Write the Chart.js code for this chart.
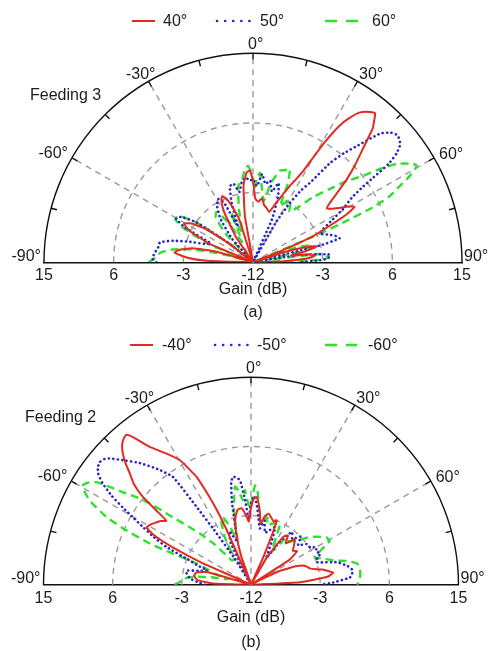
<!DOCTYPE html>
<html lang="en">
<head>
    <meta charset="UTF-8">
    <title>Feeding 3 / Feeding 2 radiation patterns</title>
    <script src="https://cdn.jsdelivr.net/npm/chart.js"></script>
    <style>
        body { margin: 0; background: #fff; overflow: hidden; }
        canvas { display: block; }
    </style>
</head>
<body>
    <canvas id="chartA" width="492" height="326"></canvas>
    <canvas id="chartB" width="492" height="330"></canvas>

    <script>
        // radial axis: gain in dB, centre = -12, rim = 15
        const gainMin = -12;
        const gainMax = 15;
        const gainTicks = [15, 6, -3, -12, -3, 6, 15];
        const ringGains = [-3, 6];
        const spokeAngles = [-60, -30, 0, 30, 60];
        const angleLabels = [-90, -60, -30, 0, 30, 60, 90];

        // (a) Feeding 3, [angle deg, gain dB]
        const feed3_40 = [[-90,-12],[-88,-6],[-86,-3.5],[-83,-1.8],[-80,-2.5],[-77,-4],[-74,-7],[-71,-12],[-67,-6],[-64,-3],[-61,-1.8],[-58,-2.6],[-55,-4.5],[-52,-8],[-48,-12],[-40,-12],[-34,-8],[-30,-4.5],[-27,-3],[-25,-2.6],[-22,-3.5],[-18,-6],[-14,-12],[-10,-6],[-7,-2],[-4,-0.4],[-2,-0.2],[0,-1.5],[2,-3.8],[5,-4.2],[8,-3.7],[11,-4.5],[14,-4.8],[18,-5.2],[21,-4],[24,-2.4],[26,-1],[27.5,0],[29,1.5],[30,3.5],[31,6],[32.5,8.8],[34,10.4],[35.7,11.7],[38,12.5],[39.5,12.8],[41,11.8],[42,11.1],[44.2,8.4],[46.5,6.2],[48.6,4.2],[50.5,2.2],[52.5,0.5],[54,-0.2],[56,0.3],[58,1.2],[60,2.3],[61.5,2.9],[63,1.6],[65,-1.5],[66.6,-3.6],[68,-8],[69,-12],[72,-8],[74,-5],[76,-3.5],[78,-5],[80,-7],[82,-4.5],[84,-4],[86,-5],[88,-8],[90,-12]];
        const feed3_50 = [[-90,0.5],[-88,1],[-85,0.8],[-81,0.4],[-78,0.3],[-75,-1.3],[-72,-3.5],[-69,-5.5],[-66,-6],[-63,-2],[-60.5,-0.6],[-58,-1],[-55,-3],[-52,-8],[-48,-12],[-42,-8],[-37,-5],[-33,-3.5],[-29,-2.7],[-26,-3.5],[-23,-7],[-20,-4],[-17,-1.8],[-14,-1.6],[-11,-2.8],[-8,-1.6],[-5,-1.1],[-2,-1.5],[0,-1.3],[3,-2.2],[6,-0.6],[9,-1.8],[12,-1.3],[15,-2.6],[18,-1.3],[21,-3],[24,-6],[27,-12],[30,-6],[32,-3],[34,-0.8],[36,0.8],[38,4.2],[40,6.3],[42,8.1],[44.8,11.3],[47,12.4],[49,12.8],[51.5,12.3],[53,11.2],[54.2,9.6],[55,7],[55.6,5.3],[57,3.2],[59.5,1.5],[62,-0.4],[64.8,-2],[67,-2.6],[70,-1.6],[73,-0.6],[74.6,-0.4],[76,-3],[78,-12],[81,-6],[84,-2.2],[86,-2],[88,-3],[90,-6]];
        const feed3_60 = [[-90,1.5],[-87,0.5],[-84,0],[-81,-1.5],[-78,-4],[-75,-8],[-72,-12],[-68,-6],[-64,-2],[-61,-0.5],[-58,-0.8],[-55,-3],[-52,-8],[-48,-12],[-44,-7],[-40,-4.5],[-36,-4],[-32,-6],[-28,-9],[-24,-5],[-20,-8],[-15,-5],[-11,-2],[-8,-1.5],[-5,0],[-3,0.4],[-1,-0.5],[1,-2.5],[3,-1],[4.5,-0.5],[7,-2.5],[10,-4],[13,-1.5],[16.5,0.3],[19,0.5],[21.7,0.9],[24,-1],[26,-4],[29,-3],[32,-2.8],[36,-4],[40,-2.6],[43,-0.5],[46.5,1.7],[49,3.8],[52,6],[54,8.5],[55.8,10.5],[58.5,12.2],[59.7,12.5],[61.3,11.1],[63,9],[64.3,7.6],[65.5,5],[66.3,1],[67,-3],[68,-12],[71,-6],[74,-4],[77,-6],[80,-10],[83,-3.3],[86,-2.2],[88,-3],[90,-12]];

        // (b) Feeding 2
        const feed2_40 = [[-90,-12],[-88,-7],[-85,-5],[-81,-4.5],[-77.5,-4.7],[-74,-6],[-70,-12],[-66,-5],[-64.6,-0.8],[-63,2.2],[-61.3,3.5],[-59,3.2],[-57,2.8],[-55,2.4],[-53,1.8],[-52,3.6],[-51,6.1],[-49.5,8],[-47.5,9.4],[-46,10.7],[-44.3,11.9],[-42.5,12.8],[-41,13.2],[-39.8,13.3],[-38.5,12.3],[-36.4,10.2],[-33,8.3],[-29.8,6.6],[-26.8,3.6],[-25,-0.3],[-24,-4.3],[-22,-12],[-19,-8],[-16,-5],[-13,-3],[-10,-2.1],[-7,-2],[-4,-3],[-2,-3.8],[0,-2],[2,-0.8],[3.7,-0.6],[5.5,-1.5],[7.2,-2.7],[9,-4],[11.5,-2.9],[14,-2.5],[17.5,-3],[20,-3.3],[22,-3],[24,-8],[27,-12],[30,-8],[34,-4.5],[37,-4],[40,-5],[44,-3.8],[48,-4.5],[51,-5],[54,-4.6],[57,-6],[61,-12],[64,-8],[68,-5.5],[71,-4.5],[74.8,-4],[78,-2.5],[81.7,-1.2],[84,-2],[87,-5.6],[90,-12]];
        const feed2_50 = [[-90,-6],[-87,-5],[-84,-4],[-80,-3.5],[-77.6,-3.4],[-75,-5],[-72,-6],[-70,-4.5],[-68.5,-3.5],[-66,0],[-64,2],[-62,3.9],[-60.5,5.5],[-59,7.5],[-57.5,9.5],[-55.7,11.4],[-54,12.6],[-52.5,13.1],[-51,13.3],[-49.5,13.1],[-48.3,12.6],[-45.5,11],[-42.5,9.4],[-39,7.3],[-36,5.3],[-35,0.3],[-34,-3.4],[-32,-8],[-29,-12],[-26,-6],[-22,-4.5],[-18,-6],[-15,-4],[-13,-1],[-11,1.5],[-9.5,2.2],[-7.5,2],[-6,1.6],[-4,-1],[-2,-3.5],[0,-1.4],[2,-0.5],[4,-1.5],[6,-3],[9,-4.6],[12,-3.5],[15,-5],[19,-4.5],[22.8,-3.9],[26,-6],[30,-8],[34,-5],[38,-3.3],[42,-4],[46,-3],[50,-4],[54,-3],[57.7,-2.9],[60.4,-2.2],[63,-2.5],[65.8,-2.1],[68,-2.7],[71,-3],[75.4,-0.4],[79,0.8],[82,1.4],[84,1.2],[85.8,0.9],[88.4,-1.3],[90,-3]];
        const feed2_60 = [[-90,-2],[-88,-2.7],[-85,-3.1],[-82,-4.5],[-79,-7],[-76,-9],[-73,-7],[-70.5,-6],[-68.7,-4.4],[-68.3,-1],[-67.9,2.2],[-66.5,5.7],[-65,8.7],[-62.5,11.7],[-60.5,13],[-59.4,13.4],[-58,13],[-56.5,12.1],[-55.5,10.5],[-54.3,8.6],[-52.5,6.5],[-51.3,4.9],[-49.3,1.4],[-47,-1],[-45,-2.6],[-42,-5],[-38,-8],[-33,-8],[-29,-5],[-25,-2.8],[-22.7,-2.5],[-20,-4],[-17,-6],[-14,-3],[-11,-0.5],[-9.3,0.9],[-7.5,0.3],[-5.5,-1],[-3.7,0.3],[-2,-1.5],[0,-2],[1,-0.5],[2.3,0.9],[4,0.2],[6,-2],[9,-4],[11,-3.5],[13,-3],[16,-4],[19,-3.6],[22.8,-3.4],[25.4,-3.2],[28,-5],[32,-7],[37,-4.3],[41,-4.5],[46,-3.8],[50,-2.5],[54,-1.4],[58,-0.4],[61,-0.3],[64,-2],[67,-3],[70,-2],[73.7,-0.8],[76,0.8],[78.8,2.1],[82,2.3],[84.2,2.3],[86.5,2.2],[88.8,2],[90,1.8]];

        const labelsA = ['40°', '50°', '60°'];
        const labelsB = ['-40°', '-50°', '-60°'];

        const RED = '#e42a20', BLUE = '#2626c4', GREEN = '#2fe02f', INK = '#1c1c1c';
        Chart.defaults.font.family = '"Liberation Sans", Arial, Helvetica, sans-serif';
        Chart.defaults.font.size = 16;
        Chart.defaults.color = INK;

        // polar (angle from broadside, gain) -> x/y in radius units
        function toXY(pts) {
            return pts.map(([a, g]) => {
                const r = Math.max(g, gainMin) - gainMin;
                const t = a * Math.PI / 180;
                return { x: r * Math.sin(t), y: r * Math.cos(t) };
            });
        }

        const styles = [
            { color: RED, width: 2, dash: [], cap: 'butt', legendDash: [] },
            { color: BLUE, width: 2.6, dash: [0.1, 4.4], cap: 'round', legendDash: [0.1, 8] },
            { color: GREEN, width: 2.4, dash: [8, 5], cap: 'butt', legendDash: [12, 9] }
        ];

        const polarFrame = {
            id: 'polarFrame',
            beforeDatasetsDraw(chart) {
                const { ctx, scales: { x, y } } = chart;
                const cx = x.getPixelForValue(0), cy = y.getPixelForValue(0);
                const R = x.getPixelForValue(gainMax - gainMin) - cx;
                ctx.save();
                ctx.strokeStyle = '#9a9a9a';
                ctx.lineWidth = 1.4;
                ctx.setLineDash([6, 5]);
                ringGains.forEach(g => {
                    const r = x.getPixelForValue(g - gainMin) - cx;
                    ctx.beginPath();
                    ctx.arc(cx, cy, r, Math.PI, 2 * Math.PI);
                    ctx.stroke();
                });
                spokeAngles.forEach(a => {
                    const t = a * Math.PI / 180;
                    ctx.beginPath();
                    ctx.moveTo(cx, cy);
                    ctx.lineTo(cx + R * Math.sin(t), cy - R * Math.cos(t));
                    ctx.stroke();
                });
                ctx.restore();
            },
            afterDatasetsDraw(chart, args, o) {
                const { ctx, scales: { x, y } } = chart;
                const cx = x.getPixelForValue(0), cy = y.getPixelForValue(0);
                const R = x.getPixelForValue(gainMax - gainMin) - cx;
                ctx.save();
                // rim and its 15 degree ticks
                ctx.strokeStyle = '#111';
                ctx.lineWidth = 1.4;
                ctx.beginPath();
                ctx.arc(cx, cy, R, Math.PI, 2 * Math.PI);
                ctx.stroke();
                for (let a = -75; a <= 75; a += 15) {
                    const t = a * Math.PI / 180, s = Math.sin(t), c = Math.cos(t);
                    ctx.beginPath();
                    ctx.moveTo(cx + R * s, cy - R * c);
                    ctx.lineTo(cx + (R - 6) * s, cy - (R - 6) * c);
                    ctx.stroke();
                }
                // angle labels
                ctx.fillStyle = INK;
                ctx.font = '16px "Liberation Sans", Arial, sans-serif';
                angleLabels.forEach(a => {
                    const t = a * Math.PI / 180;
                    const px = cx + R * Math.sin(t), py = cy - R * Math.cos(t);
                    const txt = a + '°';
                    if (a === 0) { ctx.textAlign = 'left'; ctx.textBaseline = 'alphabetic'; ctx.fillText(txt, px - 5, py - 4); }
                    else if (a === -30) { ctx.textAlign = 'right'; ctx.textBaseline = 'alphabetic'; ctx.fillText(txt, px + 7, py - 2); }
                    else if (a === 30) { ctx.textAlign = 'left'; ctx.textBaseline = 'alphabetic'; ctx.fillText(txt, px + 1.5, py - 2); }
                    else if (a === -60) { ctx.textAlign = 'right'; ctx.textBaseline = 'middle'; ctx.fillText(txt, px - 4, py - 4); }
                    else if (a === 60) { ctx.textAlign = 'left'; ctx.textBaseline = 'middle'; ctx.fillText(txt, px + 5, py - 3); }
                    else if (a === -90) { ctx.textAlign = 'right'; ctx.textBaseline = 'middle'; ctx.fillText(txt, px - 3, py - 6); }
                    else { ctx.textAlign = 'left'; ctx.textBaseline = 'middle'; ctx.fillText(txt, px + 2, py - 6); }
                });
                // feeding note
                ctx.textAlign = 'left';
                ctx.textBaseline = 'middle';
                ctx.fillText(o.note, o.noteX, o.noteY);
                // legend
                chart.data.datasets.forEach((ds, i) => {
                    const it = o.legend[i], st = styles[i];
                    ctx.save();
                    ctx.strokeStyle = ds.borderColor;
                    ctx.lineWidth = ds.borderWidth;
                    ctx.lineCap = st.cap;
                    ctx.setLineDash(st.legendDash);
                    ctx.beginPath();
                    ctx.moveTo(it[0], o.legendY);
                    ctx.lineTo(it[1], o.legendY);
                    ctx.stroke();
                    ctx.restore();
                    ctx.fillText(ds.label, it[2], o.legendY + 1);
                });
                ctx.restore();
            }
        };

        function makeChart(id, series, names, cfg) {
            return new Chart(document.getElementById(id), {
                type: 'scatter',
                data: {
                    datasets: series.map((s, i) => ({
                        label: names[i],
                        data: toXY(s),
                        showLine: true,
                        pointRadius: 0,
                        tension: 0.15,
                        borderColor: styles[i].color,
                        borderWidth: styles[i].width,
                        borderDash: styles[i].dash,
                        borderCapStyle: styles[i].cap,
                        fill: false
                    }))
                },
                options: {
                    responsive: false,
                    animation: false,
                    layout: { padding: cfg.pad },
                    plugins: {
                        legend: { display: false },
                        tooltip: { enabled: false },
                        polarFrame: cfg.frame
                    },
                    scales: {
                        x: {
                            type: 'linear',
                            min: gainMin - gainMax,
                            max: gainMax - gainMin,
                            grid: { display: false, drawTicks: false },
                            border: { display: true, color: '#111', width: 1.4 },
                            ticks: {
                                stepSize: 9,
                                autoSkip: false,
                                maxRotation: 0,
                                padding: cfg.tickPad,
                                font: { size: 16, lineHeight: 1 },
                                callback: (v, i) => String(gainTicks[i])
                            },
                            title: {
                                display: true,
                                text: ['Gain (dB)', cfg.caption],
                                font: { size: 16, lineHeight: cfg.titleLH },
                                padding: { top: cfg.titleTop, bottom: 0 }
                            }
                        },
                        y: { type: 'linear', min: 0, max: gainMax - gainMin, display: false }
                    }
                },
                plugins: [polarFrame]
            });
        }

        makeChart('chartA', [feed3_40, feed3_50, feed3_60], labelsA, {
            pad: { left: 44, right: 30, top: 52, bottom: 2.3 },
            tickPad: 5, titleLH: 1.4375, titleTop: -10.6, caption: '(a)',
            frame: { note: 'Feeding 3', noteX: 30, noteY: 96, legendY: 21,
                     legend: [[132, 155, 163], [217, 250, 260], [325, 360, 372]] }
        });

        makeChart('chartB', [feed2_40, feed2_50, feed2_60], labelsB, {
            pad: { left: 43.5, right: 33.5, top: 50.5, bottom: 1.25 },
            tickPad: 5.5, titleLH: 1.53125, titleTop: -6.05, caption: '(b)',
            frame: { note: 'Feeding 2', noteX: 25, noteY: 92, legendY: 19,
                     legend: [[130, 153, 162], [215, 248, 257], [325, 357, 368]] }
        });
    </script>
</body>
</html>
